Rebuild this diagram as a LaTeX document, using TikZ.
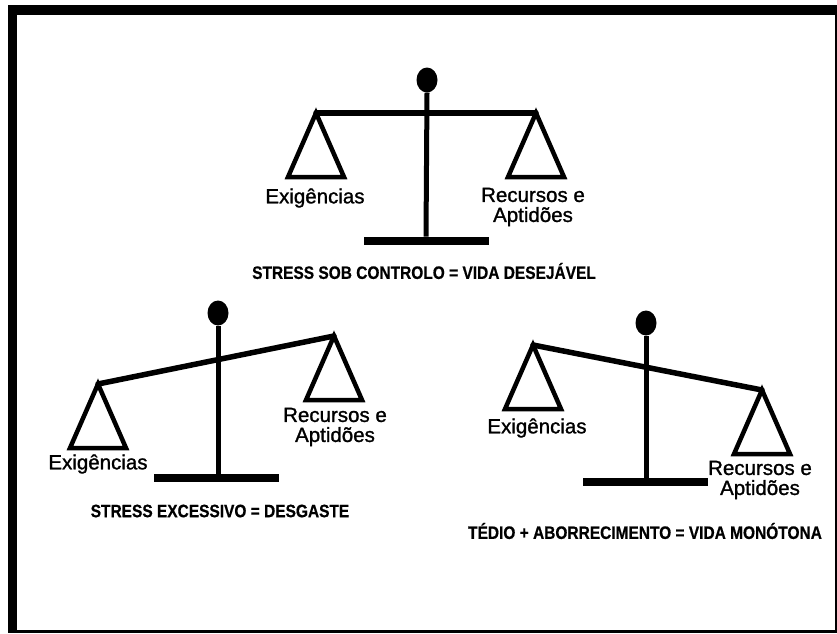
\documentclass[tikz,border=0pt]{standalone}
\usepackage{fontspec}
\setmainfont{Liberation Sans}
\newfontfamily\letrarotulo[FakeBold=1.2]{Liberation Sans}
\newfontfamily\letralegenda[FakeStretch=0.86,FakeBold=0.6]{Liberation Sans Bold}
\usetikzlibrary{shapes.geometric}

\begin{document}
\begin{tikzpicture}[
x=1pt, y=-1pt,
haste/.style={line width=5pt},
travessa/.style={line width=5.5pt, line cap=round},
prato/.style={line width=4.5pt, line join=miter},
pega/.style={
  ellipse,
  fill=black,
  inner sep=0pt,
  minimum width=21pt,
  minimum height=25pt
  },
pe/.style={
  rectangle,
  fill=black,
  inner sep=0pt,
  minimum width=125pt,
  minimum height=8.5pt
  },
rotulo/.style={font=\letrarotulo\fontsize{20.5}{20}\selectfont, align=center, inner sep=0pt},
legenda/.style={font=\letralegenda\fontsize{18}{18}\selectfont, inner sep=0pt}
]
% moldura
\useasboundingbox (0,0) rectangle (837,633);
\fill[black] (8,5) rectangle (837,633);
\fill[white] (17,15) rectangle (835,630);

% balanca de cima: equilibrio
\node[pega] (a-pega) at (427,80) {};
\node[pe] (a-pe) at (426,241) {};
\coordinate (a-esq) at (316,113);
\coordinate (a-dir) at (536,113);
\draw[haste] (a-pega.south) -- (a-pe.north);
\draw[travessa] (a-esq) -- (a-dir);
\draw[prato] (a-esq) -- ++(-28,64) -- ++(56,0) -- cycle;
\draw[prato] (a-dir) -- ++(-28,64) -- ++(56,0) -- cycle;
\node[rotulo] (a-exig) at (315,198) {Exigências};
\node[rotulo] (a-rec) at (533,207) {Recursos e\\Aptidões};
\node[legenda] (a-leg) at (424,271) {STRESS SOB CONTROLO = VIDA DESEJÁVEL};

% balanca da esquerda: exigencias pesam mais
\node[pega] (b-pega) at (218,313) {};
\node[pe] (b-pe) at (216,478) {};
\coordinate (b-esq) at (98,384);
\coordinate (b-dir) at (334,336);
\draw[haste] (b-pega.south) -- (b-pe.north -| b-pega.south);
\draw[travessa] (b-esq) -- (b-dir);
\draw[prato] (b-esq) -- ++(-28,64) -- ++(56,0) -- cycle;
\draw[prato] (b-dir) -- ++(-28,64) -- ++(56,0) -- cycle;
\node[rotulo] (b-exig) at (98,464) {Exigências};
\node[rotulo] (b-rec) at (335,427) {Recursos e\\Aptidões};
\node[legenda] (b-leg) at (220,511) {STRESS EXCESSIVO = DESGASTE};

% balanca da direita: recursos pesam mais
\node[pega] (c-pega) at (646,323) {};
\node[pe] (c-pe) at (645,482) {};
\coordinate (c-esq) at (533,345);
\coordinate (c-dir) at (762,390);
\draw[haste] (c-pega.south) -- (c-pe.north -| c-pega.south);
\draw[travessa] (c-esq) -- (c-dir);
\draw[prato] (c-esq) -- ++(-28,64) -- ++(56,0) -- cycle;
\draw[prato] (c-dir) -- ++(-28,64) -- ++(56,0) -- cycle;
\node[rotulo] (c-exig) at (537,428) {Exigências};
\node[rotulo] (c-rec) at (760,480) {Recursos e\\Aptidões};
\node[legenda] (c-leg) at (645,531) {TÉDIO + ABORRECIMENTO = VIDA MONÓTONA};
\end{tikzpicture}
\end{document}
